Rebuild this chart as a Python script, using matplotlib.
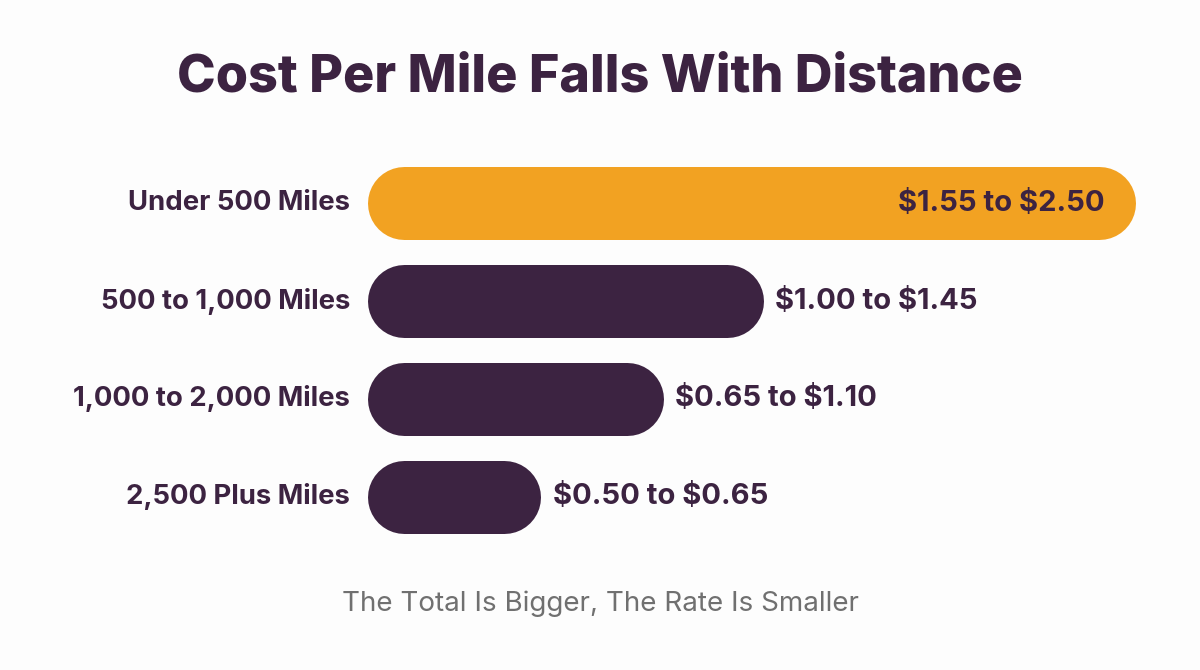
import matplotlib
matplotlib.use("Agg")
import matplotlib.pyplot as plt

# data
categories = ["Under 500 Miles", "500 to 1,000 Miles", "1,000 to 2,000 Miles", "2,500 Plus Miles"]
low = [1.55, 1.00, 0.65, 0.50]
high = [2.50, 1.45, 1.10, 0.65]
# visual bar length (dollars on the bar scale) as drawn in the picture
bar_len = [2.50, 1.29, 0.965, 0.565]

orange = "#F2A222"
purple = "#3C2341"
bg = "#FDFDFD"

plt.rcParams["font.family"] = ["Inter", "DejaVu Sans"]

W, H, dpi = 1200, 670, 100
fig = plt.figure(figsize=(W / dpi, H / dpi), dpi=dpi, facecolor=bg)

# axes laid out in pixel terms so bars land where they sit in the reference
left_px, right_px = 367, 1196
top_px, bot_px = 140, 560
ax = fig.add_axes([left_px / W, (H - bot_px) / H, (right_px - left_px) / W, (bot_px - top_px) / H])
ax.set_facecolor(bg)
px_per_unit = 307.2
ax.set_xlim(0, (right_px - left_px) / px_per_unit)
step = 97.7
c0 = 203.5
ax.set_ylim((bot_px - c0) / step, (top_px - c0) / step)
ax.axis("off")

bar_h_px = 73
lw = bar_h_px * 72 / dpi
r = (bar_h_px / 2) / px_per_unit

for i, (cat, lo, hi, v) in enumerate(zip(categories, low, high, bar_len)):
    col = orange if i == 0 else purple
    ax.plot([r, v - r], [i, i], color=col, linewidth=lw, solid_capstyle="round")
    ax.text(-17 / px_per_unit, i, cat, ha="right", va="center", fontsize=19.8,
            fontweight="bold", color=purple)
    label = f"\\${lo:.2f} to \\${hi:.2f}"
    if i == 0:
        ax.text(v - 30 / px_per_unit, i, label, ha="right", va="center", fontsize=21,
                fontweight="bold", color=purple)
    else:
        ax.text(v + 12 / px_per_unit, i, label, ha="left", va="center",
                fontsize=21, fontweight="bold", color=purple)

fig.text(0.5, 1 - 78 / H, "Cost Per Mile Falls With Distance", ha="center", va="center",
         fontsize=37.5, fontweight="heavy", color=purple)
fig.text(0.5, 1 - 604 / H, "The Total Is Bigger, The Rate Is Smaller", ha="center", va="center",
         fontsize=20, color="#707070")

fig.savefig("out.png", dpi=dpi, facecolor=bg)
